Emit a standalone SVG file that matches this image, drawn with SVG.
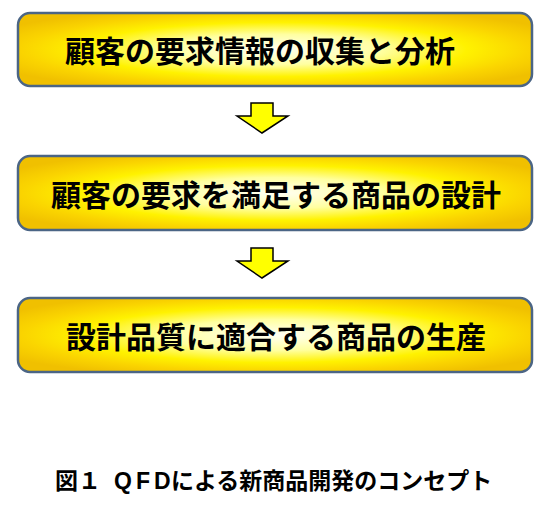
<svg xmlns="http://www.w3.org/2000/svg" width="548" height="508" viewBox="0 0 548 508">
  <style>
    .box { fill: url(#g); stroke: #4B6585; stroke-width: 2.5; }
    .lbl { font-family: "Noto Sans CJK JP", "Noto Sans CJK SC", sans-serif; font-size: 30px; font-weight: bold; fill: #000; dominant-baseline: central; }
    .arrow { fill: #FFFF00; stroke: #000; stroke-width: 1.5; stroke-linejoin: miter; }
    .cap { font-family: "Noto Sans CJK JP", sans-serif; font-size: 23px; font-weight: bold; fill: #000; }
    .lat { font-family: "Liberation Sans", Arial, sans-serif; letter-spacing: 4px; }
  </style>
  <defs>
    <radialGradient id="g" cx="0.5" cy="0.5" r="0.6">
      <stop offset="0" stop-color="#FFFFF4"/>
      <stop offset="0.35" stop-color="#FFFFA0"/>
      <stop offset="0.62" stop-color="#FFF200"/>
      <stop offset="0.82" stop-color="#FAD400"/>
      <stop offset="1" stop-color="#F0C000"/>
    </radialGradient>
  </defs>
  <rect width="548" height="508" fill="#FFFFFF"/>
  <g id="connectors">
    <polygon class="arrow" points="251,103 273,103 273,116 288,116 262,133 237,116 251,116"/>
    <polygon class="arrow" points="251,248 273,248 273,261 288,261 262,278 237,261 251,261"/>
  </g>
  <g id="node1">
    <rect class="box" x="18" y="13" width="514" height="73" rx="12"/>
    <text class="lbl" x="65" y="49">顧客の要求情報の収集と分析</text>
  </g>
  <g id="node2">
    <rect class="box" x="18" y="156" width="514" height="74" rx="12"/>
    <text class="lbl" x="51" y="193">顧客の要求を満足する商品の設計</text>
  </g>
  <g id="node3">
    <rect class="box" x="18" y="298" width="514" height="74" rx="12"/>
    <text class="lbl" x="66" y="335">設計品質に適合する商品の生産</text>
  </g>
  <text class="cap" x="55" y="489">図１<tspan class="lat" x="114">QFD</tspan><tspan x="171">による新商品開発のコンセプト</tspan></text>
</svg>
